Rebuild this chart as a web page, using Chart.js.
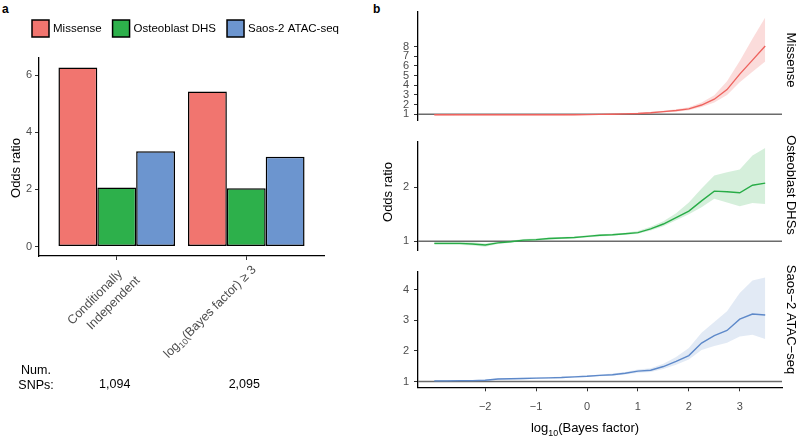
<!DOCTYPE html>
<html>
<head>
<meta charset="utf-8">
<script src="https://cdn.jsdelivr.net/npm/chart.js@4.4.1/dist/chart.umd.min.js"></script>
<style>
  html, body { margin: 0; padding: 0; background: #fff; }
  #wrap { position: relative; width: 800px; height: 438px; overflow: hidden; font-family: "Liberation Sans", Arial, sans-serif; }
  canvas { position: absolute; }
  .tag { position: absolute; font-weight: bold; font-size: 12px; color: #000; }
</style>
</head>
<body>
<div id="wrap">
  <div class="tag" style="left:2px;top:2px">a</div>
  <div class="tag" style="left:373px;top:2px">b</div>
  <canvas id="barChart" style="left:0;top:0" width="380" height="438"></canvas>
  <canvas id="missChart" style="left:370px;top:0" width="430" height="132"></canvas>
  <canvas id="dhsChart" style="left:370px;top:130px" width="430" height="132"></canvas>
  <canvas id="atacChart" style="left:370px;top:260px" width="430" height="178"></canvas>
</div>
<script>
// panel a: odds ratios per SNP set
var groupLabels = [
    [[["Conditionally", ""]], [["Independent", ""]]],
    [[["log", ""], ["10", "sub"], ["(Bayes factor) \u2265 3", ""]]]
];
var missenseOR = [6.27, 5.43];
var dhsOR = [2.07, 2.04];
var atacOR = [3.34, 3.14];
var numSnps = ["1,094", "2,095"];
var barTicks = [0, 2, 4, 6];

// panel b: odds ratio vs log10(Bayes factor) threshold
var bayesX = [-3, -2.75, -2.5, -2.25, -2, -1.75, -1.5, -1.25, -1, -0.75, -0.5, -0.25, 0,
              0.25, 0.5, 0.75, 1, 1.25, 1.5, 1.75, 2, 2.25, 2.5, 2.75, 3, 3.25, 3.5];
var bayesTicks = [-2, -1, 0, 1, 2, 3];

var missenseMid = [0.95, 0.95, 0.95, 0.95, 0.94, 0.94, 0.94, 0.94, 0.94, 0.94, 0.94, 0.95, 0.96,
                   0.98, 1.0, 1.04, 1.08, 1.15, 1.27, 1.38, 1.55, 1.95, 2.55, 3.55, 5.15, 6.6, 8.05];
var missenseLow = [0.88, 0.88, 0.89, 0.89, 0.89, 0.9, 0.9, 0.9, 0.9, 0.9, 0.9, 0.91, 0.92,
                   0.94, 0.96, 0.99, 1.02, 1.08, 1.17, 1.26, 1.4, 1.75, 2.2, 3.0, 4.3, 5.4, 6.45];
var missenseHigh = [1.02, 1.02, 1.01, 1.01, 1.0, 0.99, 0.99, 0.99, 0.99, 0.99, 0.99, 1.0, 1.01,
                    1.03, 1.05, 1.09, 1.15, 1.22, 1.37, 1.52, 1.72, 2.2, 2.95, 4.4, 6.5, 8.8, 11.0];
var missenseTicks = [1, 2, 3, 4, 5, 6, 7, 8];

var dhsMid = [0.96, 0.96, 0.96, 0.95, 0.93, 0.97, 0.99, 1.02, 1.03, 1.05, 1.06, 1.07, 1.09,
              1.11, 1.12, 1.14, 1.16, 1.23, 1.32, 1.44, 1.56, 1.75, 1.93, 1.92, 1.9, 2.04, 2.08];
var dhsLow = [0.93, 0.93, 0.93, 0.92, 0.9, 0.95, 0.97, 1.0, 1.01, 1.03, 1.04, 1.05, 1.07,
              1.09, 1.1, 1.12, 1.14, 1.2, 1.28, 1.39, 1.5, 1.63, 1.79, 1.72, 1.65, 1.71, 1.69];
var dhsHigh = [0.99, 0.99, 0.99, 0.98, 0.96, 0.99, 1.01, 1.04, 1.05, 1.07, 1.08, 1.09, 1.11,
               1.13, 1.14, 1.16, 1.19, 1.27, 1.37, 1.52, 1.72, 1.98, 2.22, 2.28, 2.33, 2.59, 2.73];
var dhsTicks = [1, 2];

var atacMid = [1.02, 1.02, 1.03, 1.03, 1.04, 1.08, 1.09, 1.1, 1.11, 1.12, 1.13, 1.15, 1.17,
               1.2, 1.22, 1.27, 1.34, 1.37, 1.49, 1.66, 1.85, 2.26, 2.5, 2.67, 3.04, 3.21, 3.18];
var atacLow = [1.0, 1.0, 1.01, 1.01, 1.02, 1.06, 1.07, 1.08, 1.09, 1.1, 1.11, 1.13, 1.15,
               1.17, 1.19, 1.23, 1.29, 1.31, 1.41, 1.55, 1.72, 2.03, 2.16, 2.27, 2.47, 2.53, 2.39];
var atacHigh = [1.04, 1.04, 1.05, 1.05, 1.06, 1.1, 1.11, 1.12, 1.13, 1.14, 1.16, 1.18, 1.2,
                1.23, 1.26, 1.31, 1.39, 1.43, 1.58, 1.8, 2.1, 2.6, 2.95, 3.3, 3.9, 4.31, 4.41];
var atacTicks = [1, 2, 3, 4];

var FONT = '"Liberation Sans", Arial, Helvetica, sans-serif';
Chart.defaults.font.family = FONT;
Chart.defaults.color = "#4d4d4d";

// small helpers for text drawn on the canvas
function rotText(ctx, text, x, y, angle, size) {
    ctx.save();
    ctx.translate(x, y);
    ctx.rotate(angle);
    ctx.font = size + "px " + FONT;
    ctx.fillStyle = "#000";
    ctx.textAlign = "center";
    ctx.textBaseline = "middle";
    ctx.fillText(text, 0, 0);
    ctx.restore();
}

// one line of text ending at x=endX, pieces may be subscripts
function drawPieces(ctx, pieces, endX, y, size) {
    var widths = pieces.map(function(p) {
        ctx.font = (p[1] === "sub" ? size * 0.68 : size) + "px " + FONT;
        return ctx.measureText(p[0]).width;
    });
    var x = endX - widths.reduce(function(a, b) { return a + b; }, 0);
    pieces.forEach(function(p, i) {
        var sub = p[1] === "sub";
        ctx.font = (sub ? size * 0.68 : size) + "px " + FONT;
        ctx.fillText(p[0], x, y + (sub ? size * 0.3 : 0));
        x += widths[i];
    });
}

var barLegend = {
    id: "barLegend",
    afterDraw: function(chart) {
        var ctx = chart.ctx;
        var box = 17, x = 32, y = 20;
        ctx.save();
        ctx.font = "11.5px " + FONT;
        ctx.textBaseline = "middle";
        ctx.textAlign = "left";
        chart.data.datasets.forEach(function(ds) {
            ctx.fillStyle = ds.backgroundColor;
            ctx.fillRect(x, y, box, box);
            ctx.lineWidth = 1.5;
            ctx.strokeStyle = "#000";
            ctx.strokeRect(x, y, box, box);
            ctx.fillStyle = "#000";
            ctx.fillText(ds.label, x + box + 4, y + box / 2 + 0.5);
            x += box + 4 + ctx.measureText(ds.label).width + 11;
        });
        ctx.restore();
    }
};

var barNotes = {
    id: "barNotes",
    afterDraw: function(chart) {
        var ctx = chart.ctx;
        var xs = chart.scales.x;
        rotText(ctx, "Odds ratio", 16.5, 168, -Math.PI / 2, 13);
        // rotated group labels, ending at the tick
        groupLabels.forEach(function(lines, i) {
            ctx.save();
            ctx.translate(xs.getPixelForValue(i) + 3, xs.top + 7);
            ctx.rotate(-Math.PI / 4);
            ctx.fillStyle = "#4d4d4d";
            ctx.textAlign = "left";
            ctx.textBaseline = "middle";
            var n = lines.length;
            lines.forEach(function(pieces, k) {
                var along = n > 1 ? -6 + k * 8 : 0;
                drawPieces(ctx, pieces, along, 7 + k * 17, 12.5);
            });
            ctx.restore();
        });
        rotText(ctx, "Num.", 36, 371, 0, 12.5);
        rotText(ctx, "SNPs:", 36, 386, 0, 12.5);
        numSnps.forEach(function(n, i) {
            rotText(ctx, n, xs.getPixelForValue(i) - 2, 384.5, 0, 12.5);
        });
    }
};

// panel a bars
var barColors = ["#F1756F", "#2DB04B", "#6C95CF"];
var barSeries = [["Missense", missenseOR], ["Osteoblast DHS", dhsOR], ["Saos-2 ATAC-seq", atacOR]];

new Chart(document.getElementById("barChart"), {
    type: "bar",
    data: {
        datasets: barSeries.map(function(s, i) {
            return {
                label: s[0],
                data: s[1].map(function(v, j) { return { x: j, y: v }; }),
                backgroundColor: barColors[i],
                borderColor: "#000",
                borderWidth: 1.5,
                borderSkipped: false,
                categoryPercentage: 0.9,
                barPercentage: 1
            };
        })
    },
    options: {
        responsive: false,
        animation: false,
        layout: { padding: { top: 58, right: 56, left: 0, bottom: 0 } },
        plugins: { legend: { display: false }, tooltip: { enabled: false } },
        scales: {
            x: {
                type: "linear",
                min: -0.6,
                max: 1.6,
                offset: false,
                afterBuildTicks: function(s) {
                    s.ticks = groupLabels.map(function(l, i) { return { value: i }; });
                },
                afterFit: function(s) { s.height = 182; },
                grid: { drawOnChartArea: false, offset: false, tickLength: 4, color: "#333" },
                border: { color: "#000", width: 1.3 },
                ticks: { display: false }
            },
            y: {
                min: -0.33,
                max: 6.6,
                afterBuildTicks: function(s) {
                    s.ticks = barTicks.map(function(v) { return { value: v }; });
                },
                afterFit: function(s) { s.width = 39; },
                grid: { drawOnChartArea: false, tickLength: 4, color: "#333" },
                border: { color: "#000", width: 1.3 },
                ticks: { padding: 3, font: { size: 11 }, color: "#4d4d4d" }
            }
        }
    },
    plugins: [barLegend, barNotes]
});

// panel b facets
var refLine = {
    id: "refLine",
    beforeDatasetsDraw: function(chart) {
        var ctx = chart.ctx, area = chart.chartArea;
        var y = chart.scales.y.getPixelForValue(1);
        ctx.save();
        ctx.strokeStyle = "#6b6b6b";
        ctx.lineWidth = 1.5;
        ctx.beginPath();
        ctx.moveTo(area.left, y);
        ctx.lineTo(area.right, y);
        ctx.stroke();
        ctx.restore();
    }
};

var facetText = {
    id: "facetText",
    afterDraw: function(chart, args, opts) {
        var ctx = chart.ctx, area = chart.chartArea;
        rotText(ctx, opts.strip, area.right + 9, (area.top + area.bottom) / 2 + opts.shift, Math.PI / 2, 13);
        if (opts.yTitle) {
            rotText(ctx, "Odds ratio", 18.5, 62, -Math.PI / 2, 13);
        }
        if (opts.xTitle) {
            ctx.save();
            ctx.fillStyle = "#000";
            ctx.textBaseline = "alphabetic";
            ctx.textAlign = "left";
            var pieces = [["log", ""], ["10", "sub"], ["(Bayes factor)", ""]];
            var total = pieces.reduce(function(a, p) {
                ctx.font = (p[1] === "sub" ? 13 * 0.68 : 13) + "px " + FONT;
                return a + ctx.measureText(p[0]).width;
            }, 0);
            drawPieces(ctx, pieces, 215 + total / 2, 172, 13);
            ctx.restore();
        }
    }
};

function facet(id, strip, shift, low, mid, high, line, shade, yMin, yMax, yTicks, bottom, yTitle) {
    var pts = function(arr) { return arr.map(function(v, i) { return { x: bayesX[i], y: v }; }); };
    return new Chart(document.getElementById(id), {
        type: "line",
        data: {
            datasets: [
                { data: pts(low), borderWidth: 0, pointRadius: 0, fill: false },
                { data: pts(high), borderWidth: 0, pointRadius: 0, fill: "-1", backgroundColor: shade },
                { data: pts(mid), borderColor: line, borderWidth: 1.4, pointRadius: 0, fill: false, tension: 0 }
            ]
        },
        options: {
            responsive: false,
            animation: false,
            layout: { padding: { top: 5, right: 18, left: 0, bottom: bottom ? 0 : 5.3 } },
            plugins: {
                legend: { display: false },
                tooltip: { enabled: false },
                facetText: { strip: strip, shift: shift, xTitle: bottom, yTitle: yTitle }
            },
            scales: {
                x: {
                    type: "linear",
                    display: bottom,
                    min: -3.32,
                    max: 3.83,
                    afterBuildTicks: function(s) {
                        s.ticks = bayesTicks.map(function(v) { return { value: v }; });
                    },
                    afterFit: function(s) { if (bottom) s.height = 50.7; },
                    grid: { drawOnChartArea: false, tickLength: 4, color: "#333" },
                    border: { color: "#000", width: 1.3 },
                    ticks: {
                        padding: 9, font: { size: 11 }, color: "#4d4d4d",
                        callback: function(v) { return v < 0 ? "\u2212" + Math.abs(v) : String(v); }
                    }
                },
                y: {
                    min: yMin,
                    max: yMax,
                    afterBuildTicks: function(s) {
                        s.ticks = yTicks.map(function(v) { return { value: v }; });
                    },
                    afterFit: function(s) { s.width = 48; },
                    grid: { drawOnChartArea: false, tickLength: 4, color: "#333" },
                    border: { color: "#000", width: 1.3 },
                    ticks: { padding: 5, autoSkip: false, font: { size: 11 }, color: "#4d4d4d" }
                }
            }
        },
        plugins: [refLine, facetText]
    });
}

facet("missChart", "Missense", -6, missenseLow, missenseMid, missenseHigh,
      "#EE5E59", "rgba(241,117,111,0.25)", 0.36, 11.62, missenseTicks, false, false);
facet("dhsChart", "Osteoblast DHSs", -11, dhsLow, dhsMid, dhsHigh,
      "#27AC46", "rgba(45,176,75,0.2)", 0.83, 2.85, dhsTicks, false, true);
facet("atacChart", "Saos\u22122 ATAC\u2212seq", -10, atacLow, atacMid, atacHigh,
      "#5A86C9", "rgba(108,149,207,0.2)", 0.81, 4.6, atacTicks, true, false);
</script>
</body>
</html>
